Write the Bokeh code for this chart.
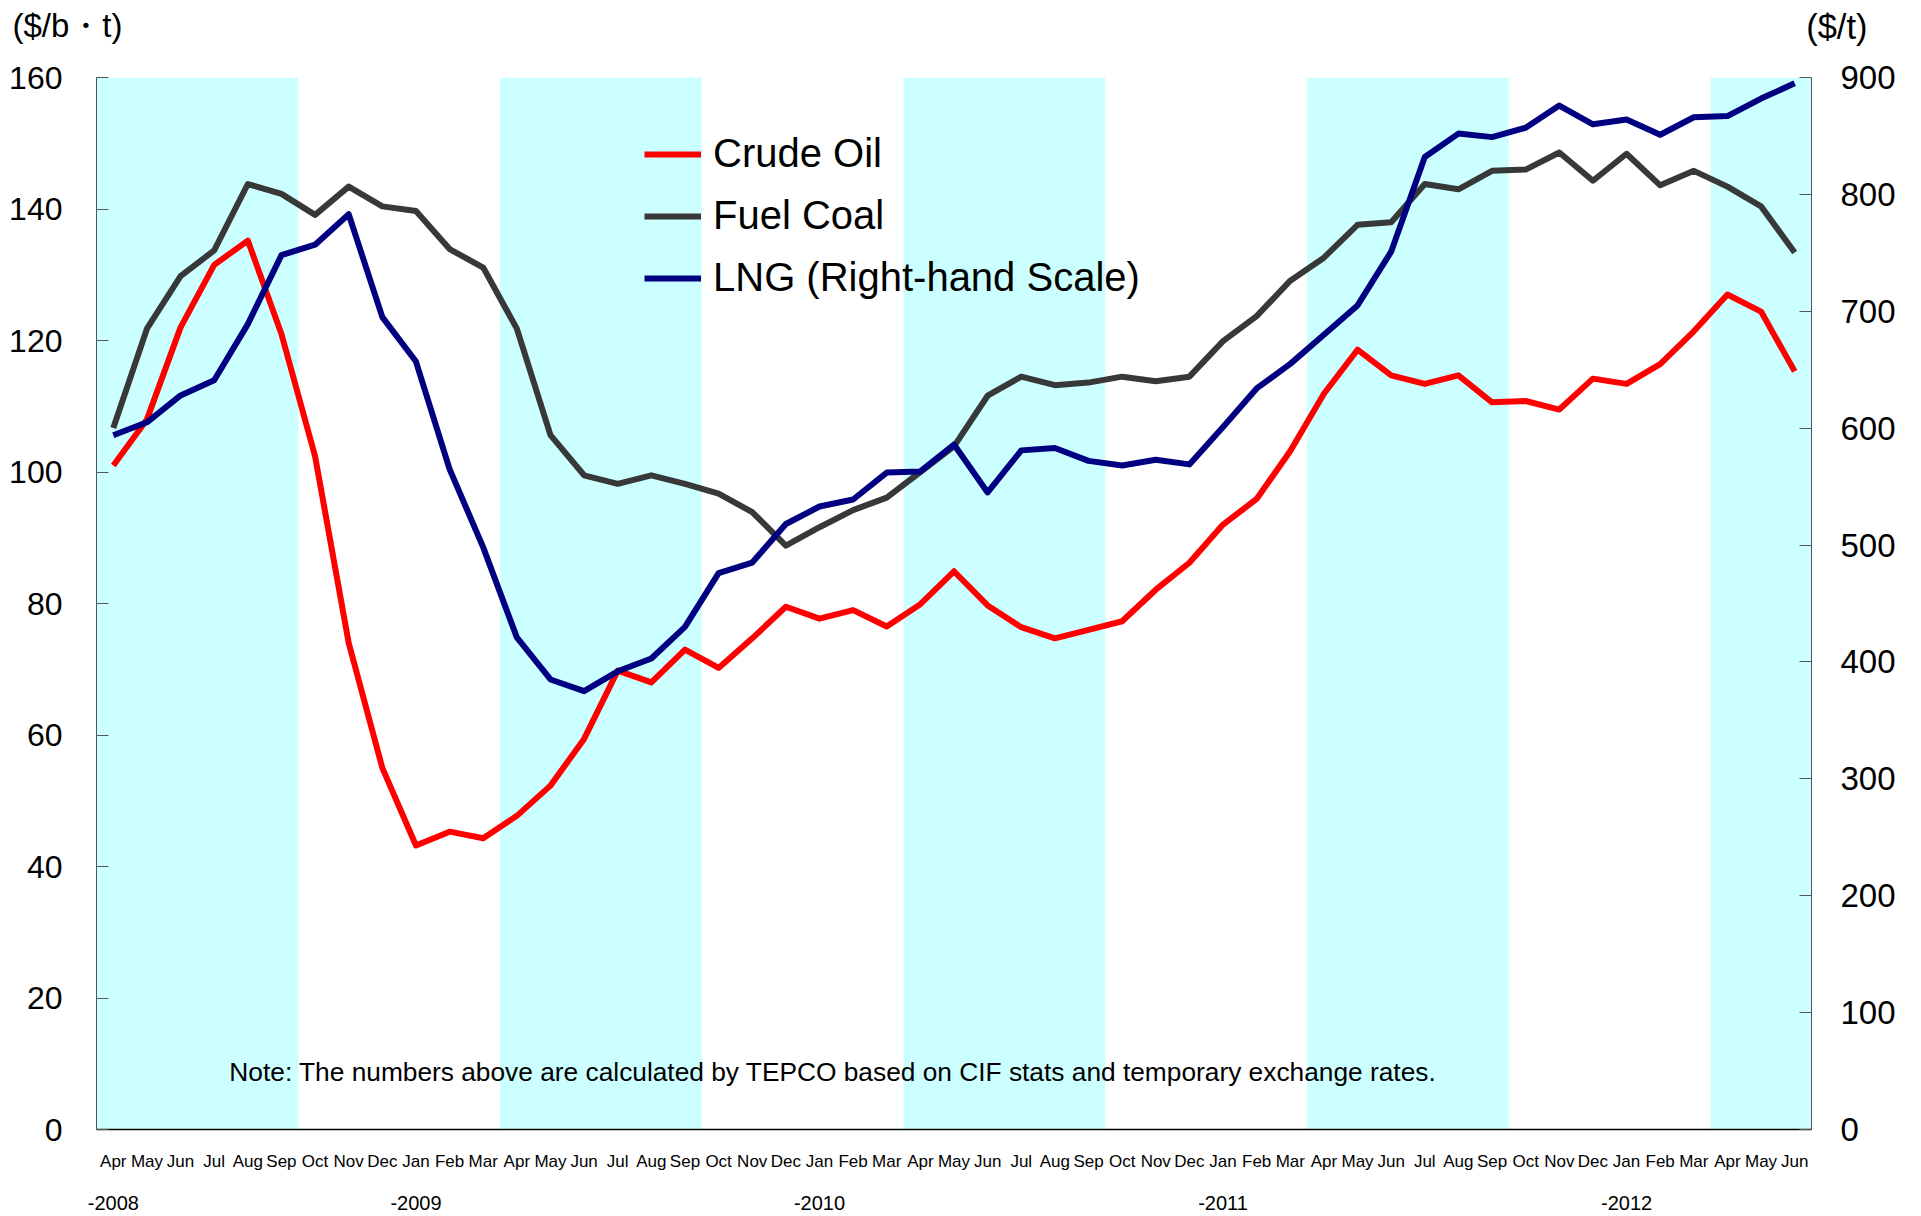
import pandas as pd
from bokeh.plotting import figure
from bokeh.models import (Range1d, LinearAxis, FixedTicker, Legend, LegendItem,
                          Label, ColumnDataSource)
from bokeh.embed import file_html
from bokeh.resources import INLINE

FONT = "Liberation Sans"

# ---------------- data ----------------
periods = [str(p) for p in pd.period_range("2008-04", "2012-06", freq="M")]
month_names = ["Jan", "Feb", "Mar", "Apr", "May", "Jun",
               "Jul", "Aug", "Sep", "Oct", "Nov", "Dec"]

crude_oil = [101, 108, 122, 131.5, 135.2, 121, 102.4, 74, 55, 43.2, 45.3, 44.3,
             47.7, 52.3, 59.4, 69.8, 68, 73, 70.2, 74.7, 79.5, 77.7, 79, 76.5,
             79.9, 84.9, 79.7, 76.4, 74.7, 76, 77.3, 82.1, 86.2, 92, 95.9, 103.2,
             111.9, 118.6, 114.7, 113.4, 114.7, 110.6, 110.8, 109.5, 114.2, 113.4,
             116.4, 121.4, 127, 124.4, 115.3]

fuel_coal = [106.7, 121.8, 129.8, 133.7, 143.8, 142.3, 139.1, 143.4, 140.4, 139.7,
             133.9, 131.1, 121.8, 105.6, 99.5, 98.2, 99.5, 98.2, 96.7, 93.9, 88.8,
             91.6, 94.2, 96.1, 100, 103.9, 111.6, 114.5, 113.2, 113.6, 114.5, 113.8,
             114.5, 119.9, 123.7, 129.1, 132.6, 137.6, 138, 143.8, 143, 145.8, 146,
             148.6, 144.3, 148.4, 143.6, 145.8, 143.4, 140.4, 133.4]

lng = [594, 605, 628, 641, 689, 748, 757, 783, 695, 657, 565, 498, 421, 385, 375,
       392, 403, 430, 476, 485, 518, 533, 539, 562, 563, 586, 545, 581, 583, 572,
       568, 573, 569, 601, 634, 655, 680, 705, 751, 832, 852, 849, 857, 876, 860,
       864, 851, 866, 867, 882, 895]

band_start = ["2008-04", "2009-04", "2010-04", "2011-04", "2012-04"]
band_end = ["2008-09", "2009-09", "2010-09", "2011-09", "2012-06"]

year_labels = ["-2008", "-2009", "-2010", "-2011", "-2012"]
year_at = ["2008-04", "2009-01", "2010-01", "2011-01", "2012-01"]

left_ticks = [0, 20, 40, 60, 80, 100, 120, 140, 160]
right_ticks = [0, 100, 200, 300, 400, 500, 600, 700, 800, 900]
unit_labels = ["($/b・t)", "($/t)"]

# ---------------- figure ----------------
idx = list(range(len(periods)))
month_labels = {i: month_names[int(p[5:7]) - 1] for i, p in enumerate(periods)}

p = figure(frame_width=1715, frame_height=1052,
           min_border_left=96, min_border_right=94,
           min_border_top=77, min_border_bottom=79,
           x_range=Range1d(-0.5, len(periods) - 0.5),
           y_range=Range1d(0, 160),
           output_backend="svg", toolbar_location=None, title=None)
p.extra_y_ranges = {"lng": Range1d(0, 900)}
p.outline_line_color = None
p.xgrid.visible = False
p.ygrid.visible = False
p.background_fill_color = "white"
p.border_fill_color = "white"

# shaded half-year bands
bsrc = ColumnDataSource(dict(
    left=[periods.index(s) - 0.5 for s in band_start],
    right=[periods.index(e) + 0.5 for e in band_end],
    bottom=[0] * len(band_start),
    top=[160] * len(band_start)))
p.quad(left="left", right="right", bottom="bottom", top="top", source=bsrc,
       fill_color="#CCFFFF", line_color=None)

r_oil = p.line(idx, crude_oil, line_color="#FF0000", line_width=6, line_join="round")
r_coal = p.line(idx, fuel_coal, line_color="#383838", line_width=6, line_join="round")
r_lng = p.line(idx, lng, line_color="#000080", line_width=6, line_join="round",
               y_range_name="lng")

# month axis
xa = p.xaxis[0]
xa.ticker = FixedTicker(ticks=idx)
xa.major_label_overrides = month_labels
xa.major_tick_out = 0
xa.major_tick_in = 0
xa.major_tick_line_color = None
xa.minor_tick_line_color = None
xa.axis_line_color = "black"
xa.axis_line_width = 1.5
xa.major_label_text_font = FONT
xa.major_label_text_font_size = "17px"
xa.major_label_text_color = "black"
xa.major_label_standoff = 22

# year axis
year_axis = LinearAxis(ticker=FixedTicker(ticks=[periods.index(a) for a in year_at]),
                       major_label_overrides={periods.index(a): l for a, l in zip(year_at, year_labels)})
year_axis.major_tick_out = 0
year_axis.major_tick_in = 0
year_axis.major_tick_line_color = None
year_axis.minor_tick_line_color = None
year_axis.axis_line_color = None
year_axis.major_label_text_font = FONT
year_axis.major_label_text_font_size = "20px"
year_axis.major_label_text_color = "black"
year_axis.major_label_standoff = 22
p.add_layout(year_axis, "below")

ya = p.yaxis[0]
ya.ticker = FixedTicker(ticks=left_ticks)
ya.minor_tick_line_color = None
ya.major_tick_in = 12
ya.major_tick_out = 0
ya.major_tick_line_color = "#555555"
ya.axis_line_color = "#555555"
ya.major_label_text_font = FONT
ya.major_label_text_font_size = "32px"
ya.major_label_text_color = "black"
ya.major_label_standoff = 34

ra = LinearAxis(y_range_name="lng", ticker=FixedTicker(ticks=right_ticks))
ra.minor_tick_line_color = None
ra.major_tick_in = 12
ra.major_tick_out = 0
ra.major_tick_line_color = "#555555"
ra.axis_line_color = "#555555"
ra.major_label_text_font = FONT
ra.major_label_text_font_size = "33px"
ra.major_label_text_color = "black"
ra.major_label_standoff = 29
p.add_layout(ra, "right")

# unit captions (placed in the top side panels so they are not clipped)
p.add_layout(Label(x=-84, y=52, x_units="screen", y_units="screen",
                   text=unit_labels[0], text_font=FONT, text_font_size="33px",
                   text_align="left", text_baseline="middle", text_color="black"),
             "above")
p.add_layout(Label(x=1771, y=14, x_units="screen", y_units="screen",
                   text=unit_labels[1], text_font=FONT, text_font_size="34.5px",
                   text_align="right", text_baseline="middle", text_color="black"),
             "above")

# note
p.add_layout(Label(x=3.45, y=8.7,
                   text="Note: The numbers above are calculated by TEPCO based on CIF stats and temporary exchange rates.",
                   text_font=FONT, text_font_size="26.3px",
                   text_baseline="middle", text_color="black"))

legend = Legend(items=[LegendItem(label="Crude Oil", renderers=[r_oil]),
                       LegendItem(label="Fuel Coal", renderers=[r_coal]),
                       LegendItem(label="LNG (Right-hand Scale)", renderers=[r_lng])],
                location=(548, 829), orientation="vertical",
                background_fill_alpha=0, border_line_color=None,
                padding=0, margin=0, spacing=17,
                glyph_width=57, glyph_height=44, label_height=44,
                label_standoff=12,
                label_text_font=FONT, label_text_font_size="40px",
                label_text_color="black")
p.add_layout(legend, "center")

open("out.html", "w").write(file_html(p, INLINE))
